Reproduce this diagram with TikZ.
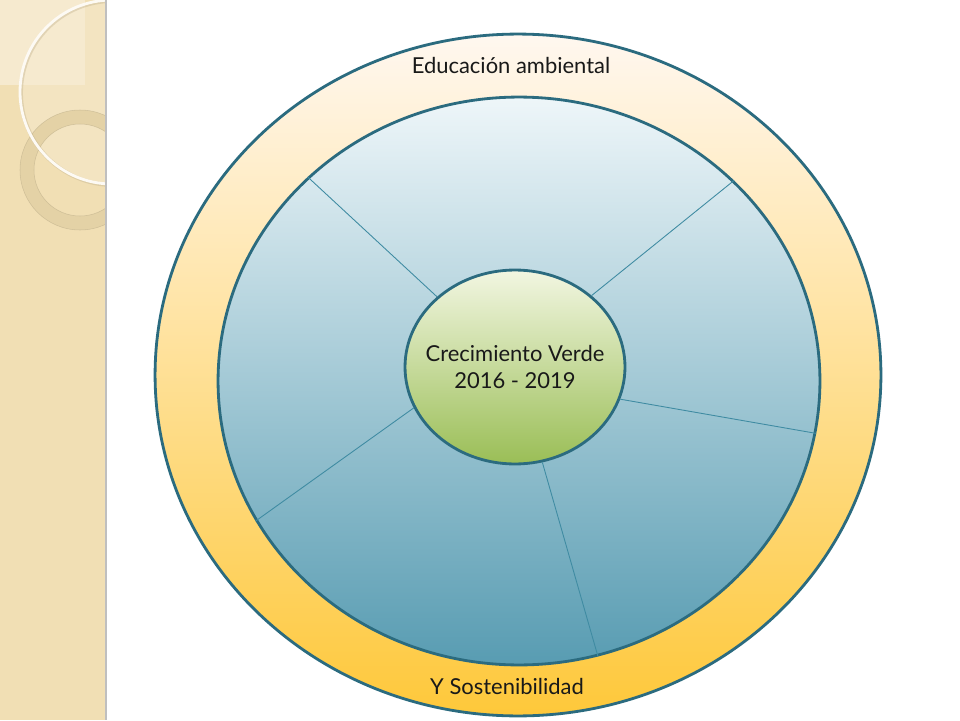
\documentclass[tikz,border=0pt]{standalone}
\usepackage{fontspec}
\setmainfont{Lato}
\usetikzlibrary{shapes.geometric}
\definecolor{stripbg}{HTML}{F1DFB4}
\definecolor{striplight}{HTML}{F6EACF}
\definecolor{ringtan}{HTML}{E4D2A6}
\definecolor{edgeteal}{HTML}{2B6B7F}
\definecolor{lineteal}{HTML}{3F8BA2}
\tikzset{
  disc/.style={ellipse, draw=edgeteal, line width=1.6pt, inner sep=0pt},
  divider/.style={draw=lineteal, line width=0.5pt},
  lbl/.style={font=\fontsize{12.5}{15}\selectfont, text=black!90, align=center}
}
\begin{document}
\begin{tikzpicture}[x=0.02cm, y=-0.02cm]
\useasboundingbox (0,0) rectangle (960,720);
\fill[white] (0,0) rectangle (960,720);
% left decorative strip
\fill[stripbg] (0,0) rectangle (105,720);
\begin{scope}
  \clip (0,0) rectangle (105,720);
  \fill[striplight] (0,0) rectangle (85,85);
  \fill[striplight, opacity=0.5] (112,92) circle (92);
  \fill[ringtan, even odd rule] (80,170) circle (60) (80,170) circle (46);
  \draw[ringtan!80!black, line width=0.3pt, opacity=0.5] (80,170) circle (60) (80,170) circle (46);
  \draw[ringtan!85!black, line width=2.2pt, opacity=0.4] (113,93) circle (92);
  \draw[white!85!stripbg, line width=1.6pt] (112,92) circle (92);
\end{scope}
\draw[black!25, line width=1.2pt] (106,0) -- (106,720);
% discs
\node[disc, minimum width=14.52cm, minimum height=13.64cm,
      top color=white!70!orange!20, middle color=orange!15!yellow!35, bottom color={rgb,255:red,254;green,200;blue,58}]
      (outer) at (518,375) {};
\node[disc, minimum width=12.04cm, minimum height=11.36cm,
      top color={rgb,255:red,238;green,246;blue,249}, middle color={rgb,255:red,160;green,200;blue,213}, bottom color={rgb,255:red,88;green,156;blue,178}]
      (mid) at (519,381) {};
\node[disc, minimum width=4.4cm, minimum height=3.88cm,
      top color={rgb,255:red,242;green,246;blue,225}, bottom color={rgb,255:red,154;green,190;blue,86}]
      (inner) at (515,367) {};
% dividers
\draw[divider] (inner.138) -- (mid.136.2);
\draw[divider] (inner.43) -- (mid.43.9);
\draw[divider] (inner.-17) -- (mid.-10.5);
\draw[divider] (inner.-74.3) -- (mid.-74.7);
\draw[divider] (inner.202) -- (mid.208.5);
% labels
\node[lbl] (center) at (515,367) {Crecimiento Verde\\2016 - 2019};
\node[lbl] (top) at (511,66) {Educación ambiental};
\node[lbl] (bottom) at (507,686) {Y Sostenibilidad};
\end{tikzpicture}
\end{document}
